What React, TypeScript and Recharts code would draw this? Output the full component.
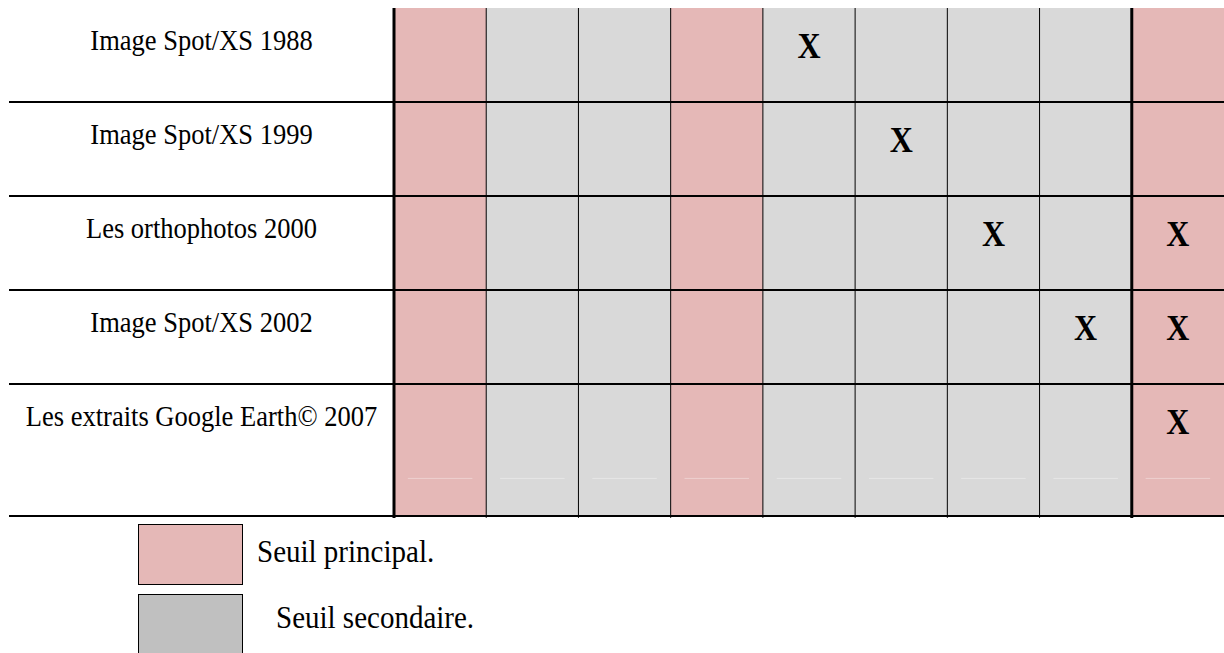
import React from 'react';
import { ComposedChart, XAxis, YAxis, ReferenceArea, ReferenceLine, Scatter } from 'recharts';

// rows of the table (sources) and the 9 threshold columns
const rowLabels = [
  'Image Spot/XS 1988',
  'Image Spot/XS 1999',
  'Les orthophotos 2000',
  'Image Spot/XS 2002',
  'Les extraits Google Earth© 2007',
];
const columnKinds = [
  'principal',
  'secondaire',
  'secondaire',
  'principal',
  'secondaire',
  'secondaire',
  'secondaire',
  'secondaire',
  'principal',
];
// cells marked with an X: row index, column index
const marks = [
  { row: 0, col: 4 },
  { row: 1, col: 5 },
  { row: 2, col: 6 },
  { row: 2, col: 8 },
  { row: 3, col: 7 },
  { row: 3, col: 8 },
  { row: 4, col: 8 },
];
const legendItems = [
  { kind: 'principal', label: 'Seuil principal.' },
  { kind: 'secondaire', label: 'Seuil secondaire.' },
];

const cellColor: Record<string, string> = { principal: '#e5b8b7', secondaire: '#d9d9d9' };
const legendColor: Record<string, string> = { principal: '#e5b8b7', secondaire: '#c0c0c0' };

const W = 1224;
const H = 653;
const TOP = 8;
const LEFT = 9;
const LABEL_W = 385;
const GRID_BOTTOM = 516;
const SERIF = '"Liberation Serif", "Times New Roman", serif';
const STRETCH = 1.08; // text in the picture is a little taller than wide

// last row is taller than the others
const rowSpans = [1, 1, 1, 1, 1.404];
const rowStart = rowSpans.map((_, i) => rowSpans.slice(0, i).reduce((a, b) => a + b, 0));
const yMax = rowSpans.reduce((a, b) => a + b, 0);
const unitX = (W - LEFT - LABEL_W) / columnKinds.length;
const xLeftEdge = -LABEL_W / unitX;

const labelTicks = rowStart.map((s) => s + 0.447);
const markPoints = marks.map((m) => ({ x: m.col + 0.5, y: rowStart[m.row] + 0.532 }));

function RowLabel({ y, index }: any) {
  return (
    <text
      transform={`translate(${LEFT + LABEL_W / 2},${y}) scale(1,${STRETCH})`}
      textAnchor="middle"
      fontFamily={SERIF}
      fontSize={26.5}
      fill="#000"
    >
      {rowLabels[index]}
    </text>
  );
}

function XMark({ cx, cy }: any) {
  return (
    <text
      transform={`translate(${cx},${cy}) scale(1,1.1)`}
      textAnchor="middle"
      fontFamily={SERIF}
      fontWeight="bold"
      fontSize={32}
      fill="#000"
    >
      X
    </text>
  );
}

export default function App() {
  return (
    <div style={{ position: 'absolute', left: 0, top: 0, width: W, height: H, background: '#fff' }}>
      <ComposedChart width={W} height={H} margin={{ top: TOP, right: 0, bottom: H - GRID_BOTTOM, left: LEFT }}>
        <XAxis type="number" dataKey="x" domain={[0, columnKinds.length]} hide allowDataOverflow />
        <YAxis
          type="number"
          dataKey="y"
          domain={[0, yMax]}
          reversed
          width={LABEL_W}
          ticks={labelTicks}
          interval={0}
          tick={<RowLabel />}
          axisLine={false}
          tickLine={false}
          allowDataOverflow
        />
        {columnKinds.map((k, i) => (
          <ReferenceArea
            key={`col-${i}`}
            x1={i}
            x2={i + 1}
            y1={0}
            y2={yMax}
            fill={cellColor[k]}
            fillOpacity={1}
            stroke="none"
            ifOverflow="visible"
          />
        ))}
        {columnKinds.map((_, i) => (
          <ReferenceLine
            key={`faint-${i}`}
            segment={[
              { x: i + 0.15, y: yMax - 0.4 },
              { x: i + 0.85, y: yMax - 0.4 },
            ]}
            stroke="#ffffff"
            strokeOpacity={0.35}
            strokeWidth={1}
            ifOverflow="visible"
          />
        ))}
        {rowStart.slice(1).concat([yMax]).map((y, i) => (
          <ReferenceLine
            key={`h-${i}`}
            segment={[
              { x: xLeftEdge, y },
              { x: columnKinds.length, y },
            ]}
            stroke="#000"
            strokeWidth={2}
            ifOverflow="visible"
          />
        ))}
        {columnKinds.map((_, i) => (
          <ReferenceLine
            key={`v-${i}`}
            segment={[
              { x: i, y: 0 },
              { x: i, y: yMax + 0.02 },
            ]}
            stroke="#000"
            strokeWidth={i === 0 || i === columnKinds.length - 1 ? 3 : 1}
            ifOverflow="visible"
          />
        ))}
        <Scatter data={markPoints} shape={<XMark />} isAnimationActive={false} />
      </ComposedChart>
      {legendItems.map((item, i) => (
        <React.Fragment key={item.kind}>
          <div
            style={{
              position: 'absolute',
              left: 138,
              top: 524 + i * 70,
              width: 105,
              height: 61,
              boxSizing: 'border-box',
              border: '1.5px solid #000',
              background: legendColor[item.kind],
            }}
          />
          <div
            style={{
              position: 'absolute',
              left: i === 0 ? 257 : 276,
              top: 538 + i * 66,
              fontFamily: SERIF,
              fontSize: 29,
              lineHeight: '29px',
              color: '#000',
              whiteSpace: 'nowrap',
              transform: `scaleY(${STRETCH})`,
              transformOrigin: '0 24px',
            }}
          >
            {item.label}
          </div>
        </React.Fragment>
      ))}
    </div>
  );
}
